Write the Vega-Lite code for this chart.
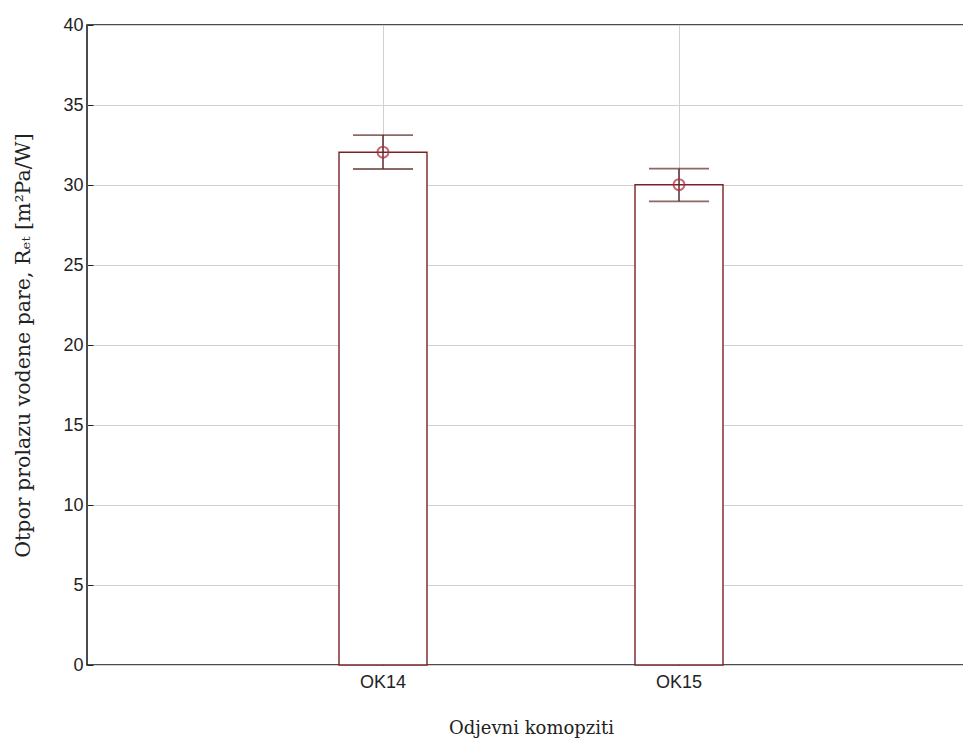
{
  "$schema": "https://vega.github.io/schema/vega-lite/v6.json",
  "autosize": "none",
  "padding": {"left": 87, "top": 25, "right": 0, "bottom": 75},
  "width": 888,
  "height": 640,
  "background": "white",
  "config": {
    "view": {"stroke": "#111111", "strokeWidth": 1.5}
  },
  "data": {
    "values": [
      {"composite": "OK14", "mean": 32.05, "lo": 31.0, "hi": 33.12},
      {"composite": "OK15", "mean": 30.02, "lo": 28.98, "hi": 31.02}
    ]
  },
  "encoding": {
    "x": {
      "field": "composite",
      "type": "nominal",
      "sort": null,
      "scale": {"type": "band", "paddingInner": 0, "paddingOuter": 0.5},
      "axis": {
        "title": "Odjevni komopziti",
        "titleFont": "DejaVu Serif",
        "titleFontSize": 18,
        "titleFontWeight": "normal",
        "titleColor": "#222222",
        "titleX": 444,
        "titleY": 63,
        "titleBaseline": "middle",
        "labelFont": "Liberation Sans",
        "labelFontSize": 18,
        "labelColor": "#222222",
        "labelAngle": 0,
        "labelPadding": 13,
        "domain": false,
        "ticks": true,
        "tickSize": -5,
        "tickColor": "#222222",
        "bandPosition": 0.5,
        "grid": true,
        "gridColor": "#d0d0d0",
        "gridWidth": 1
      }
    }
  },
  "layer": [
    {
      "mark": {"type": "bar", "width": 88, "fill": "white", "stroke": "#7a2222", "strokeWidth": 1.4},
      "encoding": {
        "y": {
          "field": "mean",
          "type": "quantitative",
          "scale": {"domain": [0, 40], "nice": false},
          "axis": {
            "title": "Otpor prolazu vodene pare, Rₑₜ [m²Pa/W]",
            "titleFont": "DejaVu Serif",
            "titleFontSize": 20.5,
            "titleFontWeight": "normal",
            "titleColor": "#222222",
            "titleAngle": -90,
            "titleX": -64,
            "titleY": 320,
            "titleAlign": "center",
            "titleBaseline": "middle",
            "values": [0, 5, 10, 15, 20, 25, 30, 35, 40],
            "labelFont": "Liberation Sans",
            "labelFontSize": 18,
            "labelColor": "#222222",
            "labelPadding": 10,
            "domain": false,
            "ticks": true,
            "tickSize": -6,
            "tickColor": "#222222",
            "grid": true,
            "gridColor": "#d0d0d0",
            "gridWidth": 1
          }
        }
      }
    },
    {
      "mark": {"type": "rule", "color": "#5a2a2a", "strokeWidth": 1.5},
      "encoding": {
        "y": {"field": "lo", "type": "quantitative"},
        "y2": {"field": "hi"}
      }
    },
    {
      "mark": {"type": "tick", "color": "#5a2a2a", "thickness": 1.8, "size": 60},
      "encoding": {
        "y": {"field": "lo", "type": "quantitative"}
      }
    },
    {
      "mark": {"type": "tick", "color": "#5a2a2a", "thickness": 1.8, "size": 60},
      "encoding": {
        "y": {"field": "hi", "type": "quantitative"}
      }
    },
    {
      "mark": {"type": "point", "shape": "circle", "filled": false, "stroke": "#b02a3a", "strokeWidth": 2, "size": 120},
      "encoding": {
        "y": {"field": "mean", "type": "quantitative"}
      }
    }
  ]
}
